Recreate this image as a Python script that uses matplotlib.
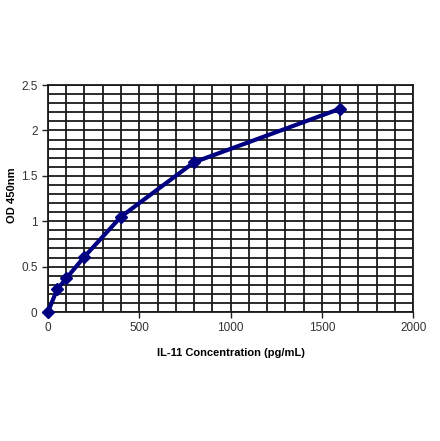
import numpy as np
import matplotlib.pyplot as plt
from matplotlib.ticker import MultipleLocator

# standard curve readings
conc = [0, 50, 100, 200, 400, 800, 1600]
od = [0.0, 0.25, 0.37, 0.61, 1.05, 1.65, 2.24]

plt.rcParams['font.family'] = ['Liberation Sans', 'DejaVu Sans']

fig = plt.figure(figsize=(4.4, 4.41), dpi=100)
ax = fig.add_axes([0.109, 0.2925, 0.83, 0.5145])

ax.set_xlim(0, 2000)
ax.set_ylim(0, 2.5)
ax.xaxis.set_major_locator(MultipleLocator(500))
ax.xaxis.set_minor_locator(MultipleLocator(100))
ax.yaxis.set_major_locator(MultipleLocator(0.5))
ax.yaxis.set_minor_locator(MultipleLocator(0.1))
ax.grid(which='both', color='#1a1a1a', linewidth=1.3)
ax.set_axisbelow(True)

ax.plot(conc, od, color='#000080', linewidth=3, marker='D', markersize=6,
        clip_on=False, zorder=5)

for s in ax.spines.values():
    s.set_color('#1a1a1a')
    s.set_linewidth(1.3)

ax.tick_params(which='major', length=4, width=1, color='#222222',
               labelsize=8.5, labelcolor='#333333')
ax.tick_params(which='minor', length=0)
ax.yaxis.set_major_formatter(plt.FuncFormatter(lambda v, p: f'{v:g}'))

ax.set_xlabel('IL-11 Concentration (pg/mL)', fontsize=8, fontweight='bold', labelpad=10)
ax.set_ylabel('OD 450nm', fontsize=8, fontweight='bold')
ax.yaxis.set_label_coords(-0.085, 0.515)

fig.savefig('out.png', dpi=100)
